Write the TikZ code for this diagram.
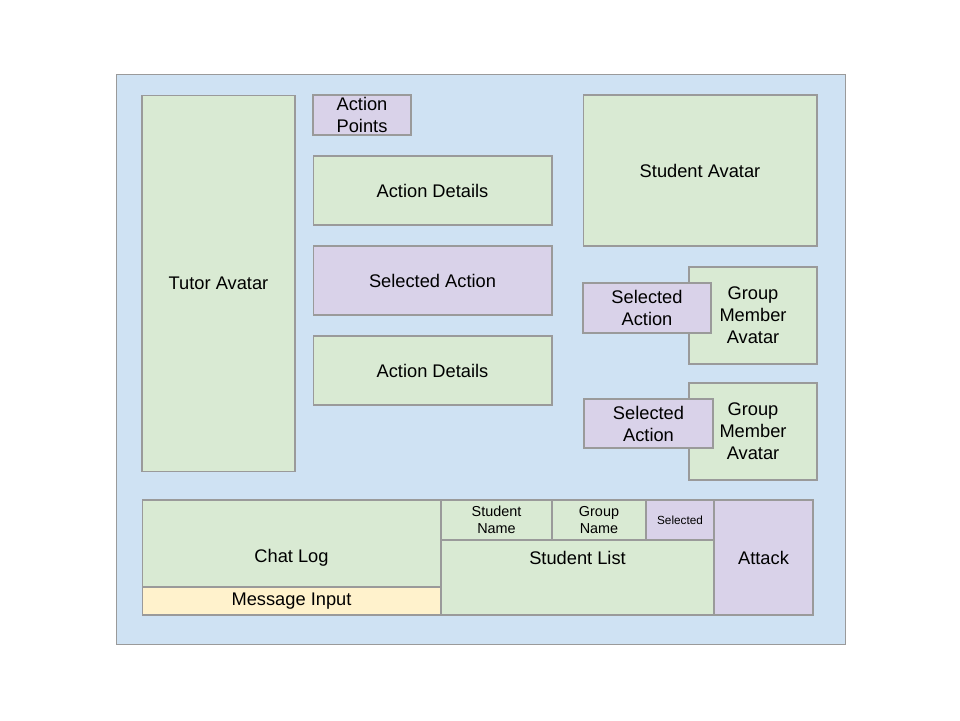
\documentclass[tikz,border=0pt]{standalone}
\usepackage{fontspec}
\setmainfont{Liberation Sans}
\usepackage{xcolor}
\definecolor{screenblue}{HTML}{CFE2F3}
\definecolor{panelgreen}{HTML}{D9EAD3}
\definecolor{panelpurple}{HTML}{D9D2E9}
\definecolor{panelyellow}{HTML}{FFF2CC}
\definecolor{edgegray}{HTML}{9A9A9A}
\begin{document}
\begin{tikzpicture}[x=0.02cm,y=-0.02cm,
  panel/.style={draw=edgegray,line width=0.6pt,inner sep=0pt,align=center,font=\fontsize{10.4}{12.5}\selectfont},
  greenbox/.style={panel,fill=panelgreen},
  purplebox/.style={panel,fill=panelpurple},
  yellowbox/.style={panel,fill=panelyellow},
  headcell/.style={font=\fontsize{8.2}{9.8}\selectfont}]
\useasboundingbox (0,0) rectangle (960,720);
\node [panel,fill=screenblue,minimum width=14.6cm,minimum height=11.42cm] (screen) at (481,359.5){};
% left column
\node [greenbox,minimum width=3.06cm,minimum height=7.54cm] (tutor) at (218.5,283.5){Tutor Avatar};
% middle column
\node [purplebox,minimum width=1.96cm,minimum height=0.8cm] (points) at (362,115){Action\\Points};
\node [greenbox,minimum width=4.78cm,minimum height=1.38cm] (details1) at (432.5,190.5){Action Details};
\node [purplebox,minimum width=4.78cm,minimum height=1.38cm] (selected) at (432.5,280.5){Selected Action};
\node [greenbox,minimum width=4.78cm,minimum height=1.38cm] (details2) at (432.5,370.5){Action Details};
% right column
\node [greenbox,minimum width=4.68cm,minimum height=3.02cm] (student) at (700,170.5){Student Avatar};
\node [greenbox,minimum width=2.56cm,minimum height=1.94cm] (member1) at (753,315.5){Group\\Member\\Avatar};
\node [purplebox,minimum width=2.56cm,minimum height=1.0cm] (memberact1) at (647,308){Selected\\Action};
\node [greenbox,minimum width=2.56cm,minimum height=1.94cm] (member2) at (753,431.5){Group\\Member\\Avatar};
\node [purplebox,minimum width=2.58cm,minimum height=0.98cm] (memberact2) at (648.5,423.5){Selected\\Action};
% bottom row
\node [greenbox,minimum width=5.98cm,minimum height=2.3cm] (chat) at (291.5,557.5){Chat Log};
\node [yellowbox,minimum width=5.98cm,minimum height=0.56cm] (input) at (291.5,601){Message Input};
\node [greenbox,minimum width=5.46cm,minimum height=2.3cm] (list) at (577.5,557.5){Student List};
\node [greenbox,headcell,minimum width=2.22cm,minimum height=0.8cm] (name) at (496.5,520){Student\\Name};
\node [greenbox,headcell,minimum width=1.88cm,minimum height=0.8cm] (group) at (599,520){Group\\Name};
\node [purplebox,font=\fontsize{6.7}{8}\selectfont,minimum width=1.36cm,minimum height=0.8cm] (sel) at (680,520){Selected};
\node [purplebox,minimum width=1.98cm,minimum height=2.3cm] (attack) at (763.5,557.5){Attack};
\end{tikzpicture}
\end{document}
